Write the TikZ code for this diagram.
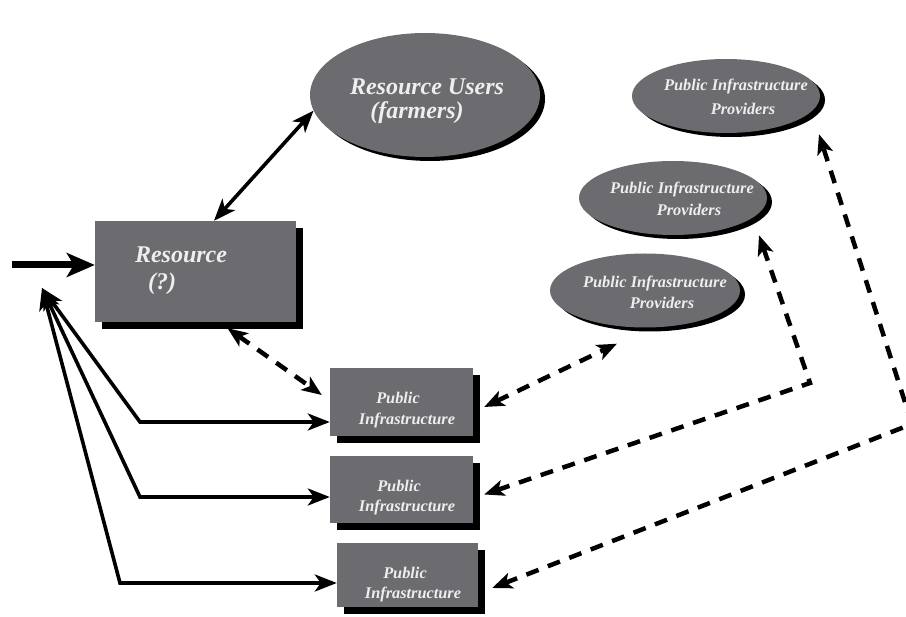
\documentclass[tikz,border=0pt]{standalone}
\usepackage{fontspec}
\setmainfont{Liberation Serif}
\usetikzlibrary{arrows.meta,shapes.geometric,shadows,calc}
\definecolor{boxgray}{RGB}{108,108,112}
\definecolor{txtwhite}{RGB}{238,238,238}
\begin{document}
\begin{tikzpicture}[x=1pt,y=-1pt,
  rbox/.style={rectangle,fill=boxgray,inner sep=0pt,
    drop shadow={shadow xshift=7pt,shadow yshift=-7pt,fill=black,opacity=1}},
  ebox/.style={ellipse,fill=boxgray,inner sep=0pt,
    drop shadow={shadow xshift=5pt,shadow yshift=-4pt,fill=black,opacity=1}},
  bigtxt/.style={text=txtwhite,font=\fontsize{24}{28}\selectfont\bfseries\itshape,inner sep=0pt},
  smalltxt/.style={text=txtwhite,font=\fontsize{16.3}{20.5}\selectfont\bfseries\itshape,inner sep=0pt,align=center},
  solidarr/.style={line width=3.6pt,{Stealth[length=22pt,width=17pt,inset=6pt]}-{Stealth[length=22pt,width=17pt,inset=6pt]}},
  dasharr/.style={line width=4.5pt,dash pattern=on 13pt off 10pt,line join=miter,
    {Stealth[length=20pt,width=16pt,inset=5pt]}-{Stealth[length=20pt,width=16pt,inset=5pt]}},
  inarr/.style={line width=7pt,-{Stealth[length=28pt,width=24pt,inset=7pt]}}
]
\clip (0,0) rectangle (906,617);
\fill[white] (0,0) rectangle (906,617);

% main nodes
\node[rbox,minimum width=201pt,minimum height=101pt] (res) at (195.5,271.5) {};
\node[bigtxt] (restxt) at (181,255) {Resource};
\node[bigtxt] (resq) at (162,284) {(?)};

\node[ebox,minimum width=230pt,minimum height=124pt] (users) at (425,95) {};
\node[bigtxt] (userstxt) at (427,87) {Resource Users};
\node[bigtxt] (farmtxt) at (417,113) {(farmers)};

% provider ellipses
\node[ebox,minimum width=188pt,minimum height=74pt] (pp1) at (726,96) {};
\node[smalltxt] (pp1a) at (736,87) {Public Infrastructure};
\node[smalltxt] (pp1b) at (743,109) {Providers};

\node[ebox,minimum width=188pt,minimum height=74pt] (pp2) at (673,198) {};
\node[smalltxt] (pp2a) at (682,189) {Public Infrastructure};
\node[smalltxt] (pp2b) at (689,210) {Providers};

\node[ebox,minimum width=190pt,minimum height=74pt] (pp3) at (645,290.5) {};
\node[smalltxt] (pp3a) at (655,283) {Public Infrastructure};
\node[smalltxt] (pp3b) at (662,303) {Providers};

% public infrastructure boxes
\node[rbox,minimum width=143pt,minimum height=68pt] (pi1) at (401.5,402) {};
\node[smalltxt] (pi1t) at (407,410) {Public\hspace*{18pt}\\Infrastructure};
\node[rbox,minimum width=143pt,minimum height=67pt] (pi2) at (401.5,489.5) {};
\node[smalltxt] (pi2t) at (407,497.5) {Public\hspace*{16pt}\\Infrastructure};
\node[rbox,minimum width=141pt,minimum height=64pt] (pi3) at (407.5,575) {};
\node[smalltxt] (pi3t) at (413,584.5) {Public\hspace*{16pt}\\Infrastructure};

% connectors
\coordinate (in) at (12,265);
\draw[inarr] (in) -- (res.west |- in);

\draw[solidarr] (res.70) -- (users.188);

\coordinate (apex) at (42,288);
\coordinate (k1) at (140,422);
\coordinate (k2) at (140,497);
\coordinate (k3) at (120,583);
\draw[solidarr] (apex) -- (k1) -- (pi1.west |- k1);
\draw[solidarr] (apex) -- (k2) -- (pi2.west |- k2);
\draw[solidarr] (apex) -- (k3) -- (pi3.west |- k3);

\draw[dasharr] ($(res.south)+(32,6)$) -- ($(pi1.west)+(-8,-7)$);
\draw[dasharr] ($(pi1.east)+(11,5)$) -- ($(pp3.south)+(-28,16)$);

\coordinate (c2) at (810,383);
\draw[dasharr] ($(pi2.east)+(11,5)$) -- (c2) -- ($(pp2.south)+(86,0)$);

\coordinate (c3) at (912,424);
\draw[dasharr] ($(pi3.east)+(14,13)$) -- (c3) -- ($(pp1.south)+(93,1)$);
\end{tikzpicture}
\end{document}
